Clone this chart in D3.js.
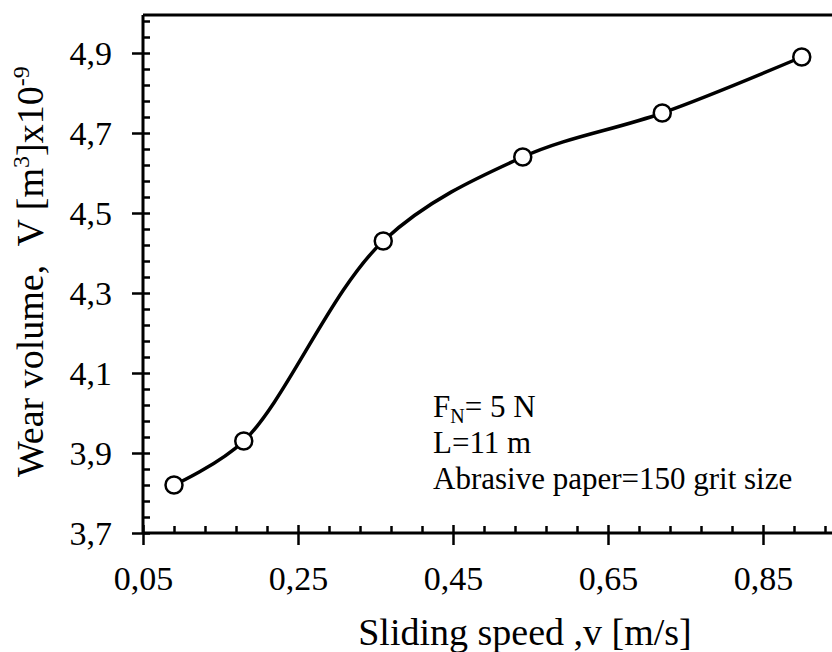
<!DOCTYPE html>
<html>
<head>
<meta charset="utf-8">
<script src="https://cdn.jsdelivr.net/npm/d3@7"></script>
<style>
  html, body { margin: 0; padding: 0; background: #fff; }
  svg { display: block; }
  text { font-family: "Liberation Serif", "Times New Roman", serif; fill: #000; }
</style>
</head>
<body>
<svg id="chart" width="832" height="652"></svg>
<script>
// ---- data ----
const speeds = [0.09, 0.18, 0.36, 0.54, 0.72, 0.90];
const wearVolume = [3.82, 3.93, 4.43, 4.64, 4.75, 4.89];
const xTickValues = [0.05, 0.25, 0.45, 0.65, 0.85];
const yTickValues = [3.7, 3.9, 4.1, 4.3, 4.5, 4.7, 4.9];
const xMinorTicks = [0.05,0.09,0.13,0.17,0.21,0.25,0.29,0.33,0.37,0.41,0.45,0.49,0.53,0.57,0.61,0.65,0.69,0.73,0.77,0.81,0.85,0.89,0.93];
const yMinorTicks = [3.7,3.74,3.78,3.82,3.86,3.9,3.94,3.98,4.02,4.06,4.1,4.14,4.18,4.22,4.26,4.3,4.34,4.38,4.42,4.46,4.5,4.54,4.58,4.62,4.66,4.7,4.74,4.78,4.82,4.86,4.9,4.94,4.98];
const xTitle = "Sliding speed ,v [m/s]";
const annotationLines = ["L=11 m", "Abrasive paper=150 grit size"];

// ---- layout ----
const svg = d3.select("#chart");
svg.append("rect").attr("width", 832).attr("height", 652).attr("fill", "#fff");

const x = d3.scaleLinear().domain([0.05, 0.95]).range([143, 840.5]);
const y = d3.scaleLinear().domain([3.7, 5.0]).range([533, 13]);
const plotTop = 15, plotRight = 832;

const fmt = v => d3.format(v < 1 ? ".2f" : ".1f")(v).replace(".", ",");

// frame (top border)
svg.append("line")
  .attr("x1", x(0.05)).attr("x2", plotRight)
  .attr("y1", plotTop).attr("y2", plotTop)
  .attr("stroke", "#000").attr("stroke-width", 3);

// x axis: outward major ticks with labels
const gxMajor = svg.append("g").attr("transform", `translate(0,${y(3.7)})`)
  .call(d3.axisBottom(x).tickValues(xTickValues).tickSize(12).tickFormat(fmt));
gxMajor.select(".domain").remove();
gxMajor.selectAll("line").attr("stroke-width", 2.5);
gxMajor.selectAll("text").attr("y", 57).attr("dy", null)
  .attr("font-size", 34).attr("font-family", "Liberation Serif");

// x axis: inward minor ticks + domain line
const gxMinor = svg.append("g").attr("transform", `translate(0,${y(3.7)})`)
  .call(d3.axisTop(x).tickValues(xMinorTicks).tickSize(7).tickFormat(""));
gxMinor.select(".domain").attr("d", `M${x(0.05)},0H${plotRight}`).attr("stroke-width", 3);
gxMinor.selectAll("line").attr("stroke-width", 2.5);
gxMinor.selectAll(".tick").filter(d => xTickValues.some(t => Math.abs(t - d) < 1e-9))
  .select("line").attr("y2", -8);

// y axis: outward major ticks with labels
const gyMajor = svg.append("g").attr("transform", `translate(${x(0.05)},0)`)
  .call(d3.axisLeft(y).tickValues(yTickValues).tickSize(11).tickFormat(fmt));
gyMajor.select(".domain").remove();
gyMajor.selectAll("line").attr("stroke-width", 2.5);
gyMajor.selectAll("text").attr("x", -31).attr("dy", null).attr("y", 11.5)
  .attr("font-size", 34).attr("font-family", "Liberation Serif");

// y axis: inward minor ticks + domain line
const gyMinor = svg.append("g").attr("transform", `translate(${x(0.05)},0)`)
  .call(d3.axisRight(y).tickValues(yMinorTicks).tickSize(7).tickFormat(""));
gyMinor.select(".domain").attr("d", `M0,${y(3.7)}V${plotTop}`).attr("stroke-width", 3);
gyMinor.selectAll("line").attr("stroke-width", 2.5);

// x title
svg.append("text")
  .attr("x", 525).attr("y", 645)
  .attr("text-anchor", "middle")
  .attr("font-size", 38)
  .text(xTitle);

// y title
const yt = svg.append("text")
  .attr("transform", "rotate(-90)")
  .attr("x", -477).attr("y", 43)
  .attr("font-size", 38)
  .style("white-space", "pre");
yt.append("tspan").text("Wear volume,  V [m");
yt.append("tspan").attr("font-size", 24).attr("dy", -14).text("3");
yt.append("tspan").attr("dy", 14).text("]x10");
yt.append("tspan").attr("font-size", 24).attr("dy", -14).text("-9");

// annotation
const ann = svg.append("g").attr("font-size", 31);
const a1 = ann.append("text").attr("x", 433).attr("y", 417).style("white-space", "pre");
a1.append("tspan").text("F");
a1.append("tspan").attr("font-size", 20).attr("dy", 6).text("N");
a1.append("tspan").attr("dy", -6).text("= 5 N");
annotationLines.forEach((t, i) => {
  ann.append("text").attr("x", 433).attr("y", 453 + i * 36).text(t);
});

// data line
const data = speeds.map((s, i) => ({ s, v: wearVolume[i] }));
const line = d3.line().x(d => x(d.s)).y(d => y(d.v)).curve(d3.curveCatmullRom.alpha(0.5));
svg.append("path").datum(data)
  .attr("d", line)
  .attr("fill", "none").attr("stroke", "#000").attr("stroke-width", 3.5);

svg.selectAll("circle.pt").data(data).enter().append("circle")
  .attr("class", "pt")
  .attr("cx", d => x(d.s)).attr("cy", d => y(d.v))
  .attr("r", 8.5)
  .attr("fill", "#fff").attr("stroke", "#000").attr("stroke-width", 2.5);
</script>
</body>
</html>
